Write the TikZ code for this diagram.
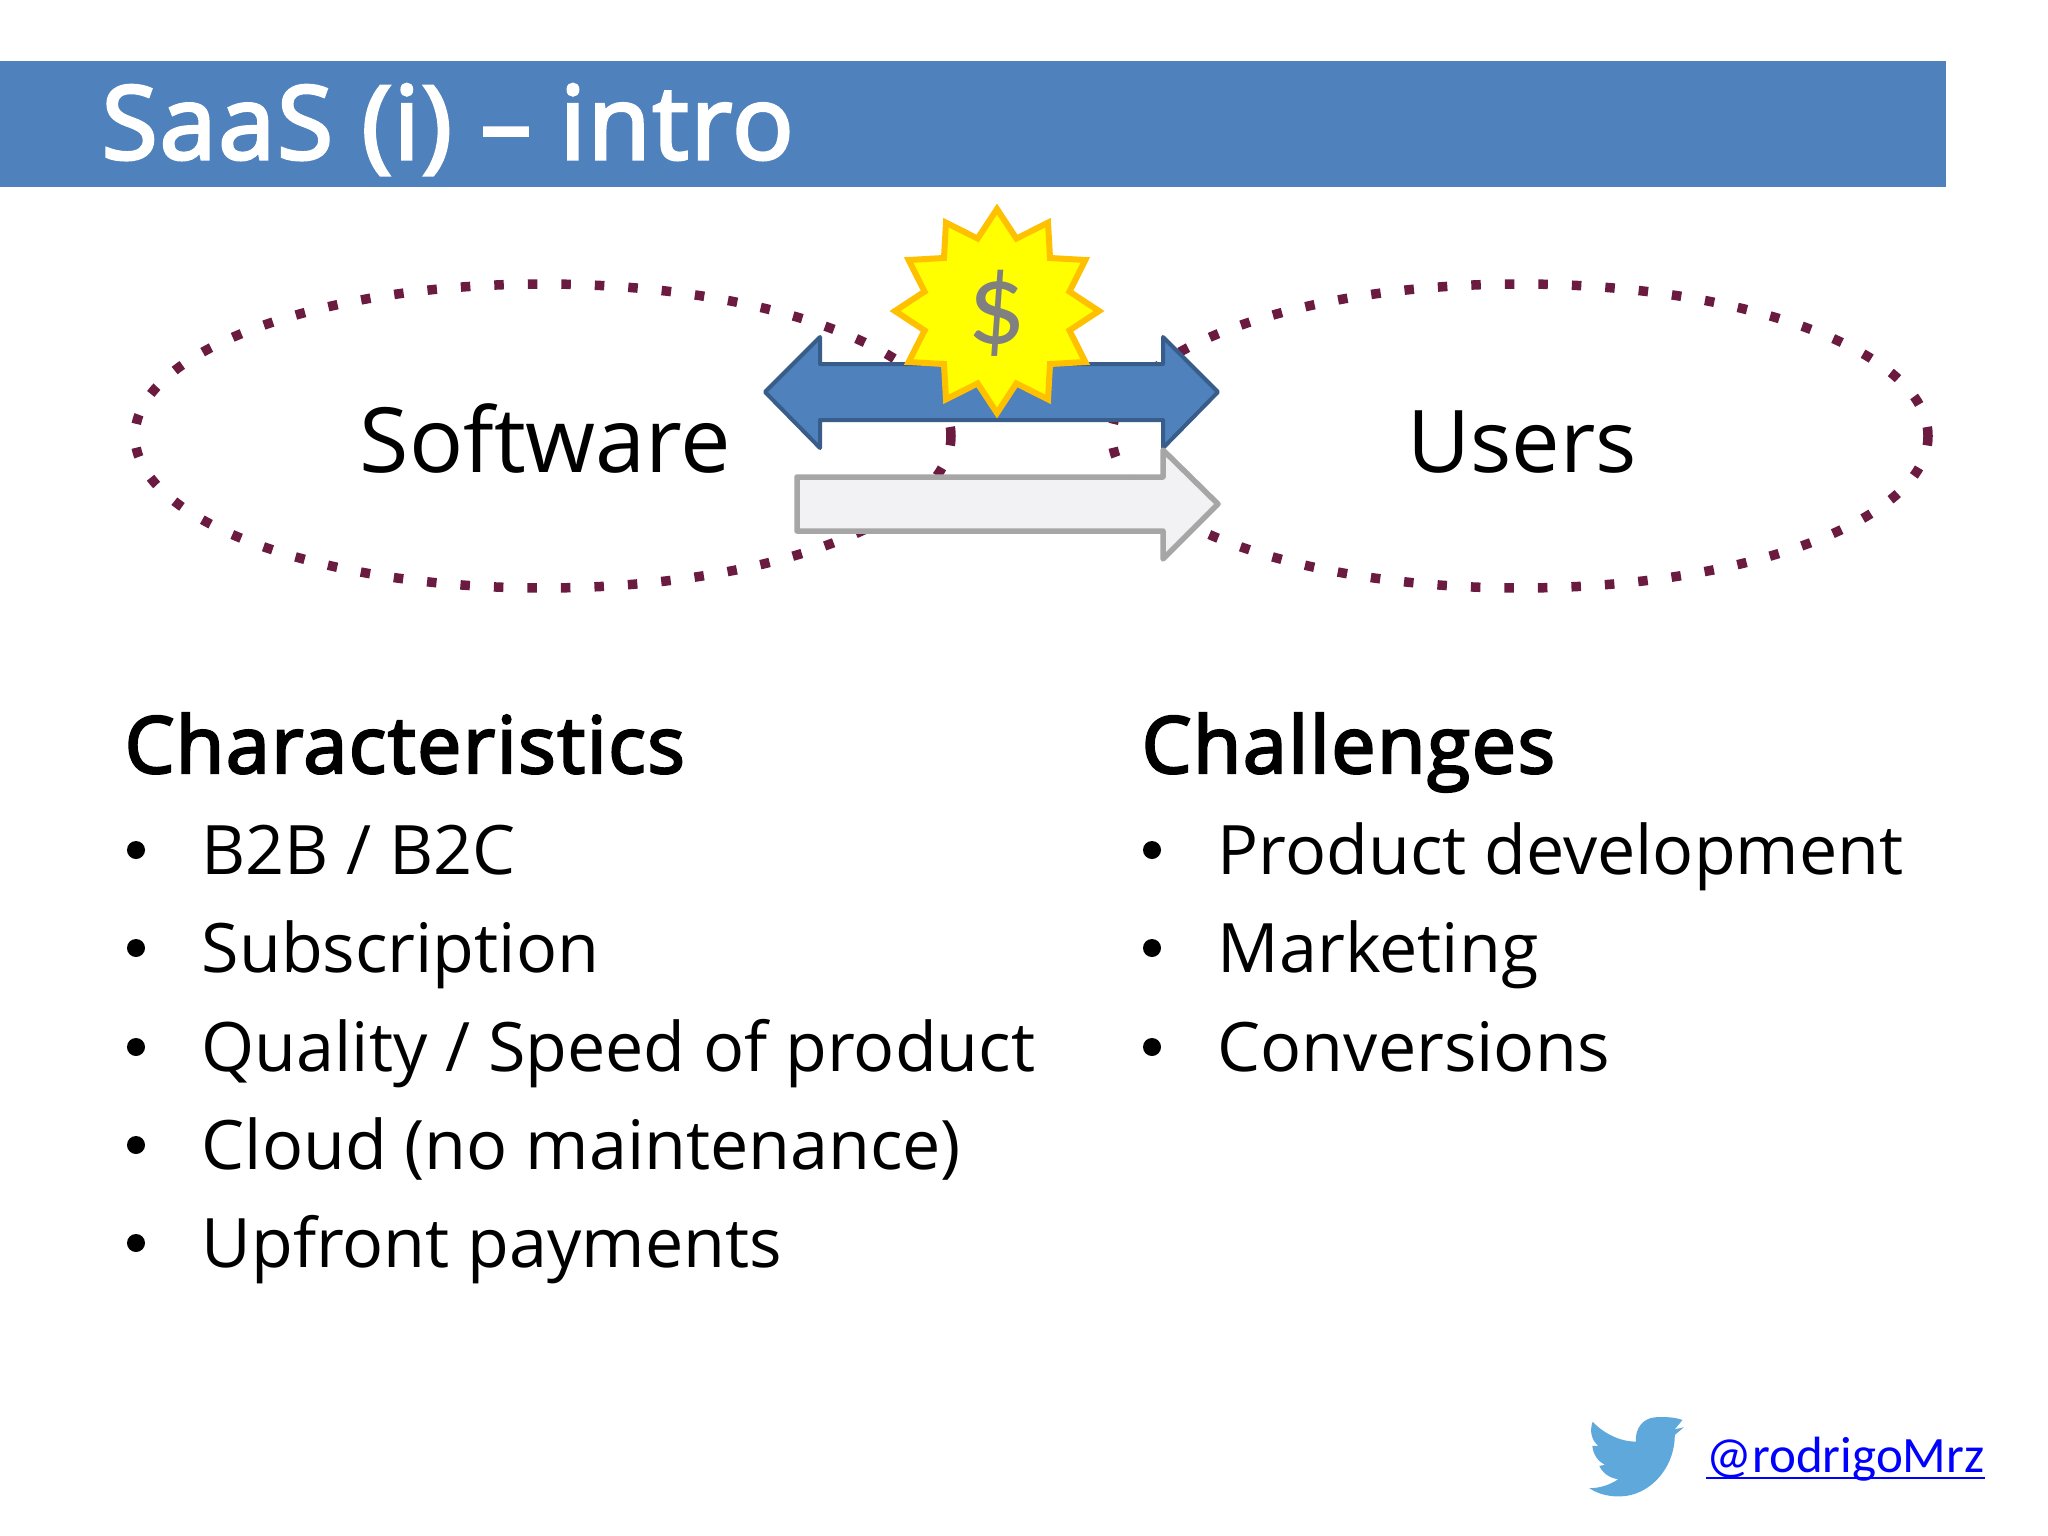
\documentclass[tikz,border=0pt]{standalone}
\usepackage{fontspec}
\setmainfont{Open Sans}
\newfontfamily\headfont[FakeBold=3,LetterSpace=2]{Open Sans}
\newfontfamily\linkfont{Carlito}
\usetikzlibrary{calc}

\definecolor{bannerblue}{HTML}{4F81BD}
\definecolor{arrowedge}{HTML}{385D8A}
\definecolor{dotcolor}{HTML}{6B1A40}
\definecolor{birdblue}{HTML}{5FA8DC}
\definecolor{starfill}{HTML}{FFFF00}
\definecolor{staredge}{HTML}{FFC000}
\definecolor{greyedge}{HTML}{A6A6A6}
\definecolor{greyfill}{HTML}{F2F2F5}

\begin{document}
\begin{tikzpicture}[x=0.01cm,y=-0.01cm,
	item/.style={anchor=base west,inner sep=0,font=\fontsize{19.4}{24}\selectfont,text=black},
	bullet/.style={circle,fill=black,inner sep=0,minimum size=0.18cm},
	heading/.style={anchor=base west,inner sep=0,font=\headfont\fontsize{22.4}{28}\selectfont,text=black},
	party/.style={anchor=base west,inner sep=0,font=\fontsize{25.6}{36}\selectfont,text=black},
	dotted ring/.style={draw=dotcolor,line width=0.095cm,dash pattern=on 0.095cm off 0.24cm}]
					\useasboundingbox (0,0) rectangle (2048,1536);
					
					\fill[bannerblue] (0,61) rectangle (1946,187);
					\node[anchor=base west,inner sep=0,text=white,font=\headfont\fontsize{29}{34}\selectfont] (title) at (101,159) {SaaS (i) – intro};
					
					\draw[dotted ring] (543,436) ellipse (408 and 152);
					\draw[dotted ring] (1520,436) ellipse (408 and 152);
					
					\node[party] (software) at (359,472) {Software};
					\node[party,font=\fontsize{24.6}{36}\selectfont] (users) at (1407,472) {Users};
					
					\draw[draw=arrowedge,fill=bannerblue,line width=0.04cm,line join=round] (765,392) -- (820,337) -- (820,364) -- (1163,364) -- (1163,337) -- (1218,392) -- (1163,448) -- (1163,420) -- (820,420) -- (820,448) -- cycle;
					\draw[draw=greyedge,fill=greyfill,line width=0.055cm,line join=round] (797,477) -- (1163,477) -- (1163,450) -- (1218,504) -- (1163,559) -- (1163,531) -- (797,531) -- cycle;
					
					\coordinate (sun) at (997,311);
					\draw[draw=staredge,fill=starfill,line width=0.06cm,line join=miter,shift={(sun)}] plot[samples at={0,...,23}] ({(102-27*mod(\x,2))*sin(15*\x)},{-(102-27*mod(\x,2))*cos(15*\x)}) -- cycle;
					\node[inner sep=0,text=black!50,font=\linkfont\fontsize{33}{36}\selectfont] (money) at (997,313) {\$};
					
					\node[heading] (char) at (124,773) {Characteristics};
					\node[item] (c1) at (201,874) {B2B / B2C};
					\node[item] (c2) at (201,972) {Subscription};
					\node[item] (c3) at (201,1071) {Quality / Speed of product};
					\node[item] (c4) at (201,1169) {Cloud (no maintenance)};
					\node[item] (c5) at (201,1267) {Upfront payments};
					\node[bullet] at (136,850) {};
					\node[bullet] at (136,948) {};
					\node[bullet] at (136,1047) {};
					\node[bullet] at (136,1145) {};
					\node[bullet] at (136,1243) {};
					
					\node[heading] (chal) at (1141,773) {Challenges};
					\node[item] (h1) at (1217,874) {Product development};
					\node[item] (h2) at (1217,972) {Marketing};
					\node[item] (h3) at (1217,1071) {Conversions};
					\node[bullet] at (1152,850) {};
					\node[bullet] at (1152,948) {};
					\node[bullet] at (1152,1047) {};
					
					% bird
					\begin{scope}[shift={(1560,1390)},x=0.00333cm,y=-0.00333cm]
					\fill[birdblue] (368,90) .. controls (345,82) and (320,80) .. (285,82) .. controls (250,85) and (225,115) .. (228,155) .. controls (180,155) and (130,130) .. (98,95) .. controls (88,125) and (95,150) .. (115,168) -- (97,168) .. controls (100,195) and (115,215) .. (135,225) -- (118,228) .. controls (128,250) and (150,265) .. (175,268) .. controls (150,285) and (120,295) .. (88,295) .. controls (125,320) and (175,325) .. (215,315) .. controls (290,295) and (345,220) .. (345,135) -- (372,112) -- (345,118) -- cycle;
					\end{scope}
					
					\node[anchor=base west,inner sep=0,text=blue,font=\linkfont\fontsize{14.5}{18}\selectfont] (handle) at (1706,1472) {@rodrigoMrz};
					\draw[blue,line width=0.025cm] ($(handle.base west)+(0,6)$) -- ($(handle.base east)+(0,6)$);
\end{tikzpicture}
\end{document}
